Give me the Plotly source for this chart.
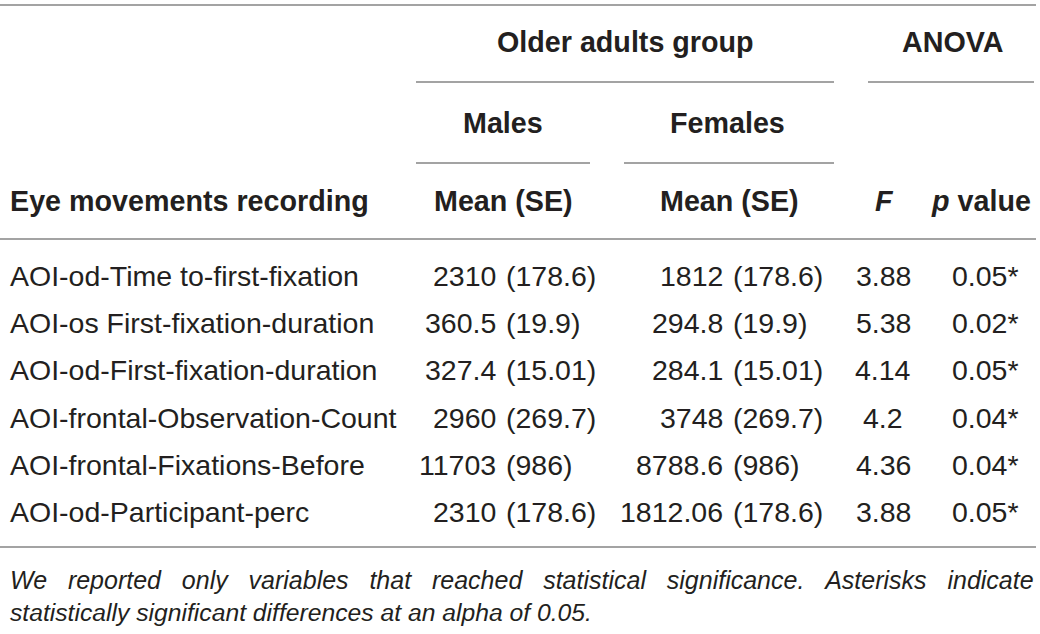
import plotly.graph_objects as go

# table content
variables = ['AOI-od-Time to-first-fixation', 'AOI-os First-fixation-duration',
             'AOI-od-First-fixation-duration', 'AOI-frontal-Observation-Count',
             'AOI-frontal-Fixations-Before', 'AOI-od-Participant-perc']
male_mean = ['2310', '360.5', '327.4', '2960', '11703', '2310']
male_se = ['(178.6)', '(19.9)', '(15.01)', '(269.7)', '(986)', '(178.6)']
female_mean = ['1812', '294.8', '284.1', '3748', '8788.6', '1812.06']
female_se = ['(178.6)', '(19.9)', '(15.01)', '(269.7)', '(986)', '(178.6)']
f_values = ['3.88', '5.38', '4.14', '4.2', '4.36', '3.88']
p_values = ['0.05*', '0.02*', '0.05*', '0.04*', '0.04*', '0.05*']

footnote = ['We reported only variables that reached statistical significance. Asterisks indicate',
            'statistically significant differences at an alpha of 0.05.']

W, H = 1040, 634
FONT = 'Liberation Sans'
TXT = '#231f20'
LINE = '#a3a3a3'
FS = 28.5
FS_B = 28.7

# column anchors (pixels)
x_var = 8
x_male_paren = 504
x_fem_paren = 731
x_f = 883
x_p = 950
row_y0, row_dy = 276, 47.2

fig = go.Figure()
fig.add_trace(go.Scatter(x=[W / 2], y=[H / 2], mode='markers', marker=dict(opacity=0),
                         hoverinfo='skip', showlegend=False))

ann = []


def txt(x, y, s, anchor='center', bold=False, italic=False, size=FS):
    if bold:
        s = '<b>' + s + '</b>'
    if italic:
        s = '<i>' + s + '</i>'
    ann.append(dict(x=x, y=y, xref='x', yref='y', text=s, showarrow=False,
                    xanchor=anchor, yanchor='middle',
                    font=dict(family=FONT, size=size, color=TXT)))


# header
txt(625, 42, 'Older adults group', bold=True, size=FS_B)
txt(952, 42, 'ANOVA', bold=True, size=FS_B)
txt(503, 123, 'Males', bold=True, size=FS_B)
txt(727, 123, 'Females', bold=True, size=FS_B)
txt(x_var, 201, 'Eye movements recording', 'left', bold=True, size=FS_B)
txt(503, 201, 'Mean (SE)', bold=True, size=FS_B)
txt(729, 201, 'Mean (SE)', bold=True, size=FS_B)
txt(884, 201, '<i>F</i>', bold=True, size=FS_B)
txt(1033, 201, '<i>p</i> value', 'right', bold=True, size=FS_B)

# body
for i in range(len(variables)):
    y = row_y0 + i * row_dy
    txt(x_var, y, variables[i], 'left')
    txt(x_male_paren - 6, y, male_mean[i], 'right')
    txt(x_male_paren, y, male_se[i], 'left')
    txt(x_fem_paren - 6, y, female_mean[i], 'right')
    txt(x_fem_paren, y, female_se[i], 'left')
    txt(x_f, y, f_values[i], 'center')
    txt(x_p, y, p_values[i], 'left')

# footnote, first line stretched to full width like the justified original
gap = ' \u00a0\u00a0'
txt(x_var, 580, gap.join(footnote[0].split(' ')), 'left', italic=True, size=25)
txt(x_var, 612, footnote[1], 'left', italic=True, size=24.7)

rules = [(0, 1036, 5), (416, 834, 82), (868, 1034, 82), (416, 590, 163),
         (624, 834, 163), (0, 1036, 239), (0, 1036, 547)]
shapes = [dict(type='line', xref='x', yref='y', x0=a, x1=b, y0=y, y1=y,
               line=dict(color=LINE, width=2)) for a, b, y in rules]

fig.update_layout(width=W, height=H, margin=dict(l=0, r=0, t=0, b=0),
                  paper_bgcolor='white', plot_bgcolor='white',
                  annotations=ann, shapes=shapes,
                  xaxis=dict(range=[0, W], visible=False, fixedrange=True),
                  yaxis=dict(range=[H, 0], visible=False, fixedrange=True))

# drop the default page margin so the figure sits at the window's corner
fig.write_html('out.html', config={'displayModeBar': False},
               post_script="document.body.style.margin='0';document.body.style.overflow='hidden';")
